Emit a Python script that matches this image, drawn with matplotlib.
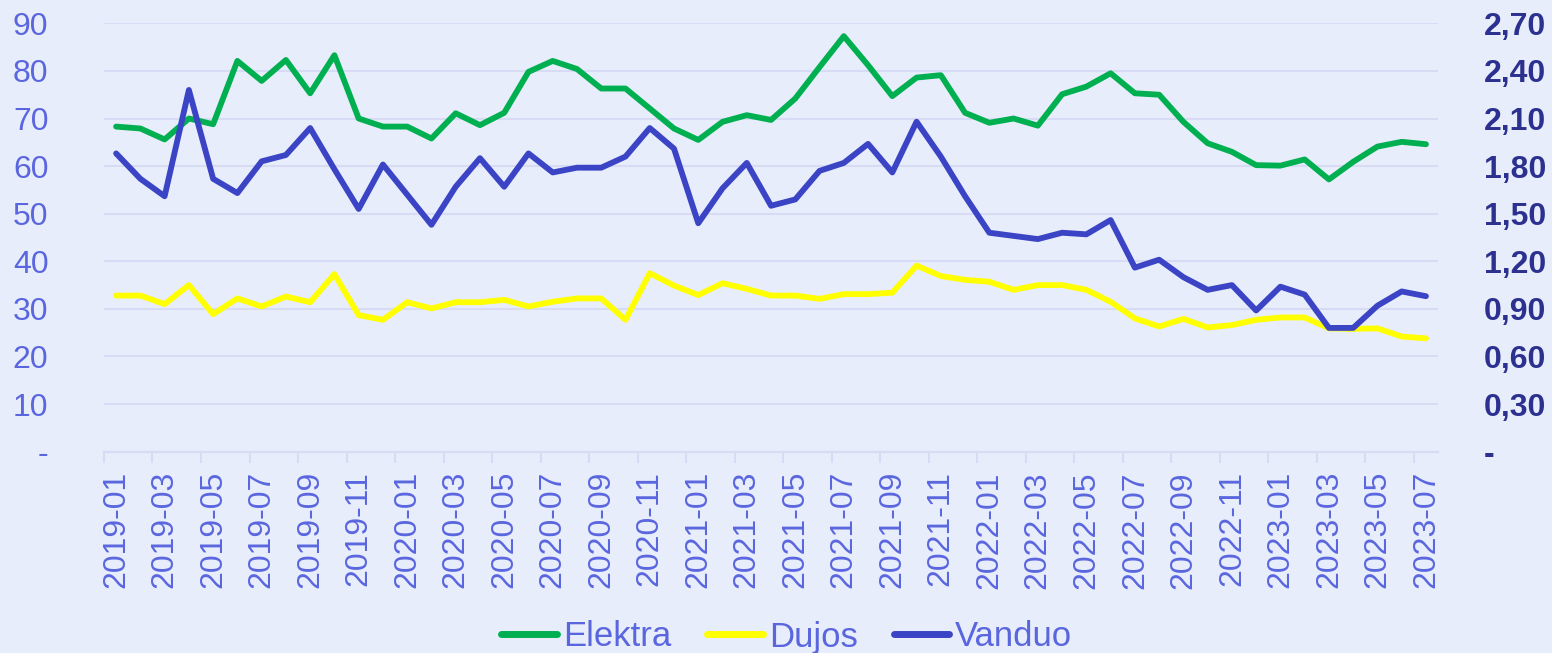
import matplotlib as mpl
mpl.use('Agg')
import matplotlib.pyplot as plt
from matplotlib.ticker import FixedLocator, FuncFormatter

# months 2019-01 .. 2023-07
months = []
for y in range(2019, 2024):
	for m in range(1, 13):
		if y == 2023 and m > 7:
			break
		months.append("%d-%02d" % (y, m))

elektra = [68.3, 67.9, 65.6, 70.0, 68.8, 82.1, 77.9, 82.3, 75.3, 83.3,
	70.0, 68.3, 68.3, 65.8, 71.1, 68.6, 71.2, 79.8, 82.1, 80.4,
	76.3, 76.3, 72.1, 67.9, 65.5, 69.3, 70.7, 69.7, 74.2, 80.8,
	87.3, 81.2, 74.7, 78.6, 79.1, 71.2, 69.1, 70.0, 68.5, 75.1,
	76.7, 79.5, 75.3, 75.0, 69.3, 64.8, 63.0, 60.2, 60.1, 61.4,
	57.2, 60.9, 64.1, 65.1, 64.6]

dujos = [32.8, 32.8, 31.0, 35.0, 28.9, 32.2, 30.5, 32.6, 31.4, 37.3,
	28.7, 27.7, 31.4, 30.1, 31.4, 31.4, 31.9, 30.5, 31.5, 32.2,
	32.2, 27.7, 37.5, 34.9, 32.9, 35.4, 34.2, 32.8, 32.8, 32.1,
	33.1, 33.1, 33.4, 39.1, 36.9, 36.1, 35.7, 34.0, 35.0, 35.0,
	34.0, 31.5, 28.0, 26.3, 27.9, 26.1, 26.6, 27.7, 28.2, 28.2,
	25.9, 25.8, 25.9, 24.2, 23.8]

vanduo = [1.88, 1.72, 1.61, 2.28, 1.72, 1.63, 1.83, 1.87, 2.04, 1.78,
	1.53, 1.81, 1.62, 1.43, 1.67, 1.85, 1.67, 1.88, 1.76, 1.79,
	1.79, 1.86, 2.04, 1.91, 1.44, 1.66, 1.82, 1.55, 1.59, 1.77,
	1.82, 1.94, 1.76, 2.08, 1.86, 1.61, 1.38, 1.36, 1.34, 1.38,
	1.37, 1.46, 1.16, 1.21, 1.10, 1.02, 1.05, 0.89, 1.04, 0.99,
	0.78, 0.78, 0.92, 1.01, 0.98]

bg = '#E8EDFC'
grid_c = '#D7DBF4'
lab_c = '#5A66DE'
navy = '#2C3190'

plt.rcParams['font.family'] = ['Liberation Sans', 'DejaVu Sans']

fig = plt.figure(figsize=(15.52, 6.53), dpi=100, facecolor=bg)
ax = fig.add_axes([0.067, 0.3083, 0.8596, 0.656])
ax.set_facecolor(bg)
ax2 = ax.twinx()

x = list(range(len(months)))
lw = 4.2
l1, = ax.plot(x, elektra, color='#00B050', lw=lw, solid_joinstyle='round', solid_capstyle='round', label='Elektra')
l2, = ax.plot(x, dujos, color='#FFFF00', lw=lw, solid_joinstyle='round', solid_capstyle='round', label='Dujos')
l3, = ax2.plot(x, vanduo, color='#3A44C5', lw=lw, solid_joinstyle='round', solid_capstyle='round', label='Vanduo')

ax.set_xlim(-0.5, len(months) - 0.5)
ax.set_ylim(0, 90)
ax2.set_ylim(0, 2.7)

ax.set_yticks(range(0, 91, 10))
ax.yaxis.set_major_formatter(FuncFormatter(lambda v, p: '-' if v == 0 else '%d' % v))
ax2.set_yticks([i * 0.3 for i in range(10)])
ax2.yaxis.set_major_formatter(FuncFormatter(lambda v, p: '-' if abs(v) < 1e-9 else ('%.2f' % v).replace('.', ',')))

ax.grid(axis='y', color=grid_c, lw=1.5)
ax.set_axisbelow(True)

ax.set_xticks(x[::2])
ax.set_xticklabels(months[::2], rotation=90)
ax.xaxis.set_minor_locator(FixedLocator([i - 0.5 for i in range(0, len(months) + 1, 2)]))
ax.tick_params(axis='x', which='major', length=0, pad=14, labelsize=23, labelcolor=lab_c)
ax.tick_params(axis='x', which='minor', length=8, width=1.5, color=grid_c, direction='out')
ax.tick_params(axis='y', length=0, pad=40, labelsize=23, labelcolor=lab_c)
ax2.tick_params(axis='y', length=0, pad=33, labelsize=23, labelcolor=navy)
for t in ax2.get_yticklabels():
	t.set_fontweight('bold')

for a in (ax, ax2):
	for s in ('top', 'left', 'right'):
		a.spines[s].set_visible(False)
	a.spines['bottom'].set_color(grid_c)
	a.spines['bottom'].set_linewidth(1.5)

leg = fig.legend(handles=[l1, l2, l3], loc='center', bbox_to_anchor=(0.507, 1 - 637 / 653.0),
	ncol=3, frameon=False, fontsize=25, handlelength=1.6, handletextpad=0.17,
	columnspacing=1.04, borderaxespad=0, borderpad=0)
for t in leg.get_texts():
	t.set_color(lab_c)
for h in leg.get_lines():
	h.set_linewidth(5)

plt.savefig('out.png', dpi=100, facecolor=bg)
